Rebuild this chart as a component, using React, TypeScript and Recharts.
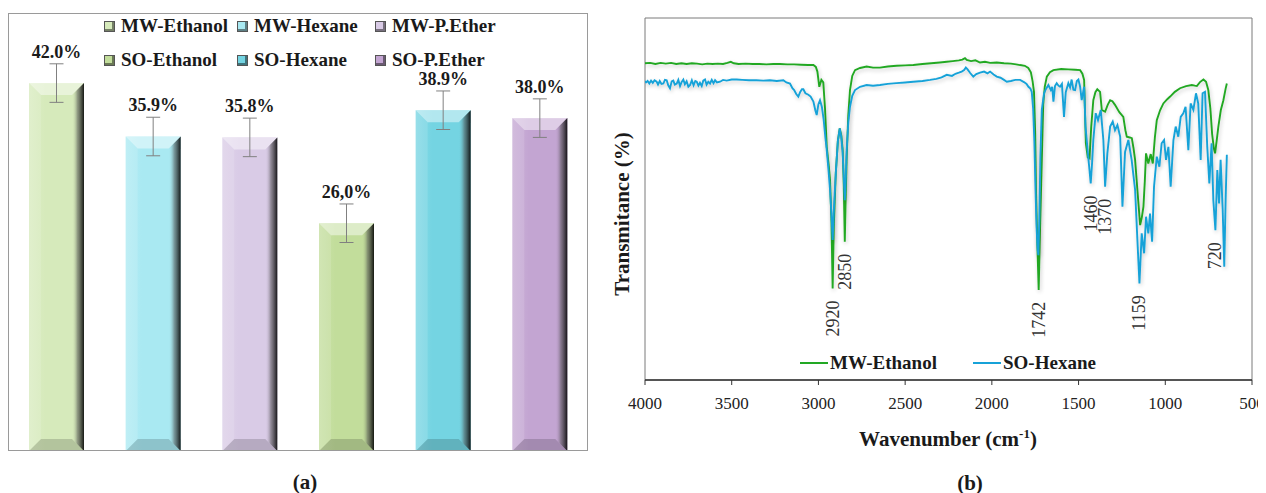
import {
  Bar,
  BarChart,
  Cell,
  ErrorBar,
  LabelList,
  Legend,
  Line,
  LineChart,
  ReferenceArea,
  ReferenceDot,
  XAxis,
  YAxis,
} from 'recharts'

const FONT = '"Liberation Serif", "Times New Roman", serif'
const INK = '#1a1a1a'

// (a) oil yield per extraction
const extractNames = ['MW-Ethanol', 'MW-Hexane', 'MW-P.Ether', 'SO-Ethanol', 'SO-Hexane', 'SO-P.Ether']
const extractYield = [42.0, 35.9, 35.8, 26.0, 38.9, 38.0]
const yieldError = [2.2, 2.2, 2.2, 2.2, 2.2, 2.2]
const yieldText = ['42.0%', '35.9%', '35.8%', '26,0%', '38.9%', '38.0%']
const barColors = ['#d6eabb', '#a9e9f2', '#d9cbe6', '#c2dd9b', '#74d4e2', '#c3a5d2']

// (b) FTIR spectra: [wavenumber, transmittance]
const wnTicks = [4000, 3500, 3000, 2500, 2000, 1500, 1000, 500]
const peakLabels = [2920, 2850, 1742, 1460, 1370, 1159, 720]
const spectrumNames = ['MW-Ethanol', 'SO-Hexane']
const spectrumColors = ['#22a824', '#17a2d8']

const mwEthanolSpectrum: [number, number][] = [
  [4000, 87.5], [3970, 87.6], [3940, 87.3], [3910, 87.6], [3880, 87.4], [3850, 87.6], [3820, 87.3],
  [3790, 87.5], [3760, 87.3], [3730, 87.5], [3700, 87.4], [3670, 87.2], [3640, 87.4], [3610, 87.3],
  [3580, 87.4], [3550, 87.3], [3525, 87.6], [3505, 87.9], [3488, 87.5], [3460, 87.3], [3420, 87.4],
  [3380, 87.3], [3340, 87.3], [3300, 87.2], [3260, 87.3], [3222, 87.3], [3180, 87.2], [3140, 87.2],
  [3100, 87.1], [3060, 87.0], [3029, 87.0], [3015, 86.5], [3006, 85.2], [2995, 81.0], [2983, 82.9],
  [2972, 82.2], [2962, 75.0], [2952, 64.4], [2940, 59.0], [2933, 55.2], [2925, 44.0], [2918, 25.3],
  [2911, 43.0], [2900, 57.0], [2888, 66.0], [2877, 69.5], [2868, 67.5], [2860, 63.5], [2854, 54.0],
  [2848, 38.2], [2843, 50.0], [2837, 61.7], [2828, 73.0], [2818, 80.1], [2805, 84.0], [2789, 85.6],
  [2760, 86.2], [2722, 86.6], [2685, 86.3], [2645, 86.3], [2600, 86.6], [2550, 86.8], [2500, 86.9],
  [2453, 87.0], [2400, 87.3], [2350, 87.5], [2300, 87.7], [2260, 87.9], [2225, 88.1], [2190, 88.3],
  [2170, 88.5], [2155, 88.9], [2145, 88.4], [2120, 88.1], [2095, 88.3], [2068, 87.7], [2040, 87.9],
  [2010, 87.6], [1972, 87.7], [1930, 87.5], [1890, 87.4], [1860, 87.2], [1837, 87.0], [1810, 86.8],
  [1790, 86.2], [1775, 85.0], [1765, 82.5], [1757, 79.6], [1750, 68.0], [1745, 51.6], [1738, 38.0],
  [1730, 24.9], [1722, 42.0], [1712, 60.8], [1704, 76.0], [1695, 81.0], [1683, 83.8], [1665, 85.0],
  [1645, 85.6], [1600, 85.9], [1560, 85.8], [1520, 85.7], [1491, 85.6], [1478, 84.6], [1468, 82.9],
  [1458, 65.4], [1447, 61.5], [1437, 61.2], [1427, 70.0], [1415, 77.3], [1403, 79.5], [1392, 80.3],
  [1376, 79.6], [1366, 74.6], [1347, 74.1], [1332, 76.0], [1318, 77.3], [1305, 77.0], [1290, 76.0],
  [1265, 74.0], [1242, 72.7], [1230, 69.0], [1222, 67.2], [1205, 67.0], [1193, 66.8], [1183, 64.0],
  [1174, 60.8], [1160, 52.0], [1145, 42.8], [1135, 45.0], [1126, 47.9], [1118, 55.0], [1111, 62.6],
  [1098, 59.8], [1084, 62.4], [1072, 59.8], [1060, 67.0], [1049, 71.8], [1030, 74.5], [1011, 76.4],
  [990, 77.5], [972, 78.3], [945, 79.6], [915, 80.6], [880, 81.2], [847, 81.5], [830, 81.3],
  [818, 81.2], [800, 82.3], [780, 83.0], [765, 82.4], [752, 80.1], [740, 75.0], [730, 68.0],
  [720, 64.0], [713, 62.6], [704, 66.0], [694, 70.0], [680, 74.5], [665, 77.3], [652, 80.5], [645, 81.9],
]

const soHexaneSpectrum: [number, number][] = [
  [4000, 82.6], [3994, 82.2], [3985, 82.6], [3975, 81.9], [3965, 82.7], [3955, 82.1], [3945, 82.8],
  [3933, 82.4], [3925, 81.6], [3915, 82.6], [3905, 81.8], [3894, 81.9], [3885, 82.9], [3875, 82.8],
  [3866, 81.4], [3856, 80.6], [3846, 82.5], [3837, 82.7], [3828, 81.6], [3817, 81.9], [3808, 82.9],
  [3798, 81.2], [3789, 82.3], [3779, 83.0], [3770, 81.7], [3760, 82.5], [3750, 81.0], [3740, 81.5],
  [3730, 82.8], [3720, 81.4], [3710, 82.6], [3702, 82.4], [3692, 81.3], [3683, 82.1], [3673, 81.2],
  [3664, 82.7], [3654, 83.0], [3645, 81.6], [3635, 82.4], [3625, 81.9], [3615, 82.9], [3605, 82.0],
  [3596, 82.8], [3585, 82.2], [3567, 82.4], [3550, 82.9], [3529, 82.7], [3500, 83.0], [3471, 83.0],
  [3440, 82.9], [3400, 82.8], [3360, 82.8], [3318, 82.7], [3280, 82.8], [3240, 82.6], [3202, 82.8],
  [3185, 82.2], [3164, 81.9], [3150, 80.6], [3140, 80.1], [3128, 79.0], [3116, 78.3], [3105, 79.6],
  [3095, 80.3], [3087, 80.3], [3075, 79.2], [3058, 78.8], [3045, 78.3], [3029, 76.9], [3018, 74.5],
  [3010, 73.2], [3000, 76.2], [2991, 77.3], [2980, 75.4], [2970, 72.0], [2960, 67.0], [2952, 63.5],
  [2942, 58.0], [2933, 52.5], [2925, 46.0], [2918, 38.7], [2911, 47.0], [2900, 57.0], [2888, 66.0],
  [2877, 69.5], [2868, 67.0], [2860, 62.6], [2854, 56.0], [2848, 49.7], [2843, 55.0], [2837, 63.5],
  [2828, 71.0], [2818, 75.5], [2805, 78.5], [2789, 80.1], [2760, 81.0], [2722, 81.5], [2685, 81.3],
  [2645, 81.5], [2600, 81.8], [2550, 82.0], [2500, 82.2], [2453, 82.4], [2400, 82.6], [2356, 82.9],
  [2320, 83.2], [2290, 83.6], [2260, 84.3], [2230, 84.0], [2210, 84.6], [2190, 84.9], [2174, 85.2],
  [2160, 85.6], [2150, 86.3], [2140, 85.8], [2125, 84.8], [2107, 83.8], [2090, 84.5], [2068, 84.9],
  [2045, 85.2], [2025, 84.7], [2010, 85.2], [1990, 84.4], [1972, 83.8], [1950, 83.5], [1930, 82.9],
  [1914, 82.4], [1890, 82.6], [1865, 82.9], [1837, 82.9], [1815, 82.3], [1800, 81.8], [1789, 81.0],
  [1778, 80.5], [1770, 79.6], [1762, 75.0], [1755, 66.0], [1748, 52.0], [1742, 42.0], [1736, 36.0],
  [1732, 34.5], [1726, 45.0], [1720, 62.0], [1712, 74.6], [1699, 79.2], [1688, 80.4], [1674, 81.5],
  [1660, 80.1], [1652, 81.0], [1645, 76.9], [1636, 81.2], [1626, 82.0], [1616, 81.3], [1607, 81.0],
  [1596, 81.8], [1584, 72.7], [1574, 79.5], [1559, 82.0], [1549, 80.8], [1540, 83.0], [1530, 80.2],
  [1520, 80.1], [1510, 82.6], [1501, 83.0], [1491, 81.0], [1482, 77.3], [1468, 81.0], [1460, 70.0],
  [1453, 66.3], [1445, 62.0], [1437, 58.0], [1430, 54.3], [1422, 60.0], [1415, 66.3], [1401, 73.7],
  [1388, 71.8], [1372, 74.6], [1357, 66.3], [1347, 53.4], [1334, 62.6], [1318, 70.0], [1303, 71.4],
  [1290, 69.0], [1276, 70.4], [1260, 67.2], [1247, 47.9], [1232, 63.0], [1213, 66.3], [1194, 60.8],
  [1174, 52.5], [1159, 36.8], [1149, 26.7], [1136, 40.5], [1122, 35.0], [1111, 45.1], [1098, 40.5],
  [1088, 46.0], [1076, 38.2], [1065, 53.4], [1049, 61.7], [1034, 58.9], [1021, 65.4], [1007, 66.3],
  [996, 60.8], [982, 64.4], [969, 53.4], [953, 66.3], [940, 70.0], [925, 67.2], [911, 72.7],
  [896, 73.7], [883, 75.5], [867, 63.5], [854, 76.4], [838, 74.6], [823, 79.2], [810, 76.4],
  [796, 60.8], [785, 79.2], [771, 79.6], [758, 64.4], [746, 54.3], [733, 65.4], [723, 49.7],
  [711, 41.4], [700, 58.0], [690, 48.8], [681, 60.8], [669, 47.0], [660, 31.3], [652, 50.0], [645, 62.2],
]

const yieldData = extractNames.map((name, i) => ({
  name,
  value: extractYield[i],
  err: yieldError[i],
}))

const spectra = [mwEthanolSpectrum, soHexaneSpectrum].map((s) => s.map(([wn, t]) => ({ wn, t })))

// lowest point of either trace near a labelled band
function findDip(wn: number) {
  let best = { wn, t: 100 }
  for (const s of spectra) {
    for (const p of s) {
      if (Math.abs(p.wn - wn) <= 40 && p.t < best.t) best = { wn: p.wn, t: p.t }
    }
  }
  return best
}
const dips = peakLabels.map((wn) => ({ label: String(wn), ...findDip(wn) }))

const serif = { fontFamily: FONT }

function BevelBar(props: any) {
  const { x, y, width, height, index } = props
  if (!height || height <= 0) return null
  const b = Math.min(12, height / 2, width / 2)
  const r = x + width
  const btm = y + height
  return (
    <g>
      <rect x={x} y={y} width={width} height={height} fill={`url(#barGrad${index})`} />
      <polygon
        points={`${x},${y} ${r},${y} ${r - b},${y + b} ${x + b},${y + b}`}
        fill="#ffffff"
        fillOpacity={0.45}
      />
      <polygon
        points={`${x},${btm} ${r},${btm} ${r - b},${btm - b} ${x + b},${btm - b}`}
        fill="#000000"
        fillOpacity={0.16}
      />
      <polygon
        points={`${x},${y} ${x + b},${y + b} ${x + b},${btm - b} ${x},${btm}`}
        fill="#ffffff"
        fillOpacity={0.12}
      />
      <polygon
        points={`${r},${y} ${r - b},${y + b} ${r - b},${btm - b} ${r},${btm}`}
        fill={`url(#barEdge${index})`}
      />
    </g>
  )
}

function YieldLabel(props: any) {
  const { x, y, width, height, index } = props
  const i = index ?? 0
  const errPx = (height * yieldError[i]) / extractYield[i]
  return (
    <text
      x={x + width / 2}
      y={y - errPx - 12}
      textAnchor="middle"
      dominantBaseline="central"
      style={serif}
      fontWeight="bold"
      fontSize={18}
      fill={INK}
    >
      {yieldText[i]}
    </text>
  )
}

function WnTick(props: any) {
  const { x, y, payload } = props
  return (
    <text x={x} y={y} dy={12} textAnchor="middle" style={serif} fontSize={17} fill="#222">
      {payload.value}
    </text>
  )
}

function YieldLegend() {
  const cols = [0, 133, 271]
  return (
    <div style={{ position: 'relative', width: 420, height: 68, fontFamily: FONT }}>
      {extractNames.map((name, i) => (
        <div
          key={name}
          style={{
            position: 'absolute',
            left: cols[i % 3],
            top: Math.floor(i / 3) * 34,
            height: 26,
            display: 'flex',
            alignItems: 'center',
            fontWeight: 'bold',
            fontSize: 19,
            color: INK,
            whiteSpace: 'nowrap',
          }}
        >
          <span
            style={{
              display: 'inline-block',
              width: 9,
              height: 9,
              marginRight: 6,
              background: barColors[i],
              border: '1px solid #555',
              boxShadow: 'inset -2px -2px 0 rgba(0,0,0,0.45)',
            }}
          />
          {name}
        </div>
      ))}
    </div>
  )
}

function SpectrumLegend() {
  const cols = [0, 173]
  return (
    <div style={{ position: 'relative', width: 320, height: 26, fontFamily: FONT }}>
      {spectrumNames.map((name, i) => (
        <div
          key={name}
          style={{
            position: 'absolute',
            left: cols[i],
            top: 0,
            height: 26,
            display: 'flex',
            alignItems: 'center',
            fontWeight: 'bold',
            fontSize: 19,
            color: INK,
            whiteSpace: 'nowrap',
          }}
        >
          <span
            style={{
              display: 'inline-block',
              width: 28,
              height: 2,
              marginRight: 2,
              background: spectrumColors[i],
            }}
          />
          {name}
        </div>
      ))}
    </div>
  )
}

function PeakLabel(props: any) {
  const vb = props.viewBox || {}
  const x = vb.x ?? 0
  const y = (vb.y ?? 0) + 12
  return (
    <text
      x={x}
      y={y}
      transform={`rotate(-90 ${x} ${y})`}
      textAnchor="end"
      dominantBaseline="central"
      style={serif}
      fontSize={18}
      fill="#333"
    >
      {props.value}
    </text>
  )
}

const caption: React.CSSProperties = {
  position: 'absolute',
  fontFamily: FONT,
  fontWeight: 'bold',
  fontSize: 21,
  color: INK,
  transform: 'translate(-50%, -50%)',
  whiteSpace: 'nowrap',
}

export default function App() {
  return (
    <div style={{ position: 'relative', width: 1250, height: 485, fontFamily: FONT }}>
      {/* (a) yield bars */}
      <div style={{ position: 'absolute', left: 0, top: 5, width: 580, height: 438 }}>
        <BarChart
          width={580}
          height={438}
          data={yieldData}
          margin={{ top: 0, right: 0, bottom: 0, left: 0 }}
          barSize={55}
          style={serif}
        >
          <defs>
            {barColors.map((c, i) => (
              <linearGradient key={i} id={`barGrad${i}`} x1="0" y1="0" x2="1" y2="0">
                <stop offset="0%" stopColor={c} stopOpacity={0.85} />
                <stop offset="30%" stopColor={c} />
                <stop offset="100%" stopColor={c} />
              </linearGradient>
            ))}
            {barColors.map((c, i) => (
              <linearGradient key={`e${i}`} id={`barEdge${i}`} x1="0" y1="0" x2="1" y2="0">
                <stop offset="0%" stopColor={c} stopOpacity={0} />
                <stop offset="45%" stopColor="#4a4a4a" stopOpacity={0.5} />
                <stop offset="100%" stopColor="#000" stopOpacity={0.9} />
              </linearGradient>
            ))}
          </defs>
          <XAxis dataKey="name" hide />
          <YAxis hide domain={[0, 50]} />
          <Legend
            layout="horizontal"
            align="center"
            verticalAlign="middle"
            wrapperStyle={{ top: 0, left: 96, width: 420 }}
            content={() => <YieldLegend />}
          />
          <Bar dataKey="value" shape={BevelBar} isAnimationActive={false}>
            {yieldData.map((d, i) => (
              <Cell key={d.name} fill={barColors[i]} />
            ))}
            <ErrorBar dataKey="err" width={7} stroke="#808080" strokeWidth={1} direction="y" />
            <LabelList dataKey="value" content={YieldLabel} />
          </Bar>
        </BarChart>
        <div
          style={{
            position: 'absolute',
            inset: 0,
            border: '1px solid #9a9a9a',
            boxSizing: 'border-box',
            pointerEvents: 'none',
          }}
        />
      </div>
      <div style={{ ...caption, left: 297, top: 474 }}>(a)</div>

      {/* (b) FTIR spectra */}
      <div style={{ position: 'absolute', left: 592, top: 0, width: 666, height: 485 }}>
        <LineChart
          width={666}
          height={485}
          margin={{ top: 10, right: 14, bottom: 43, left: 0 }}
          style={serif}
        >
          <defs>
            <filter id="lineShadow" x="-5%" y="-5%" width="110%" height="115%">
              <feGaussianBlur in="SourceAlpha" stdDeviation="2" />
              <feOffset dx="1" dy="2" result="blur" />
              <feComponentTransfer>
                <feFuncA type="linear" slope="0.22" />
              </feComponentTransfer>
              <feMerge>
                <feMergeNode />
                <feMergeNode in="SourceGraphic" />
              </feMerge>
            </filter>
          </defs>
          <XAxis
            type="number"
            dataKey="wn"
            domain={[500, 4000]}
            reversed
            ticks={wnTicks}
            interval={0}
            height={70}
            allowDataOverflow
            axisLine={{ stroke: '#333', strokeWidth: 1.5 }}
            tickLine={{ stroke: '#333' }}
            tickSize={5}
            tickMargin={12}
            tick={<WnTick />}
          />
          <YAxis
            type="number"
            domain={[0, 100]}
            width={45}
            tick={false}
            tickLine={false}
            axisLine={false}
          />
          <ReferenceArea
            x1={4000}
            x2={500}
            y1={0}
            y2={100}
            fill="none"
            stroke="#7a7a7a"
            strokeWidth={1}
            ifOverflow="visible"
          />
          <Legend
            layout="horizontal"
            align="center"
            verticalAlign="middle"
            wrapperStyle={{ top: 342, left: 200, width: 320 }}
            content={() => <SpectrumLegend />}
          />
          {spectra.map((data, i) => (
            <Line
              key={spectrumNames[i]}
              data={data}
              dataKey="t"
              name={spectrumNames[i]}
              type="linear"
              stroke={spectrumColors[i]}
              strokeWidth={1.9}
              dot={false}
              activeDot={false}
              filter="url(#lineShadow)"
              isAnimationActive={false}
            />
          ))}
          {dips.map((d) => (
            <ReferenceDot
              key={d.label}
              x={d.wn}
              y={d.t}
              r={0}
              fill="none"
              stroke="none"
              label={<PeakLabel value={d.label} />}
            />
          ))}
        </LineChart>
      </div>
      <div
        style={{
          ...caption,
          left: 614,
          top: 206,
          fontSize: 21,
          transform: 'translate(-50%, -50%) rotate(-90deg)',
        }}
      >
        Transmitance (%)
      </div>
      <div style={{ ...caption, left: 940, top: 431 }}>
        Wavenumber (cm<sup style={{ fontSize: 13, verticalAlign: 'super', lineHeight: 0 }}>-1</sup>)
      </div>
      <div style={{ ...caption, left: 962, top: 475 }}>(b)</div>
    </div>
  )
}
